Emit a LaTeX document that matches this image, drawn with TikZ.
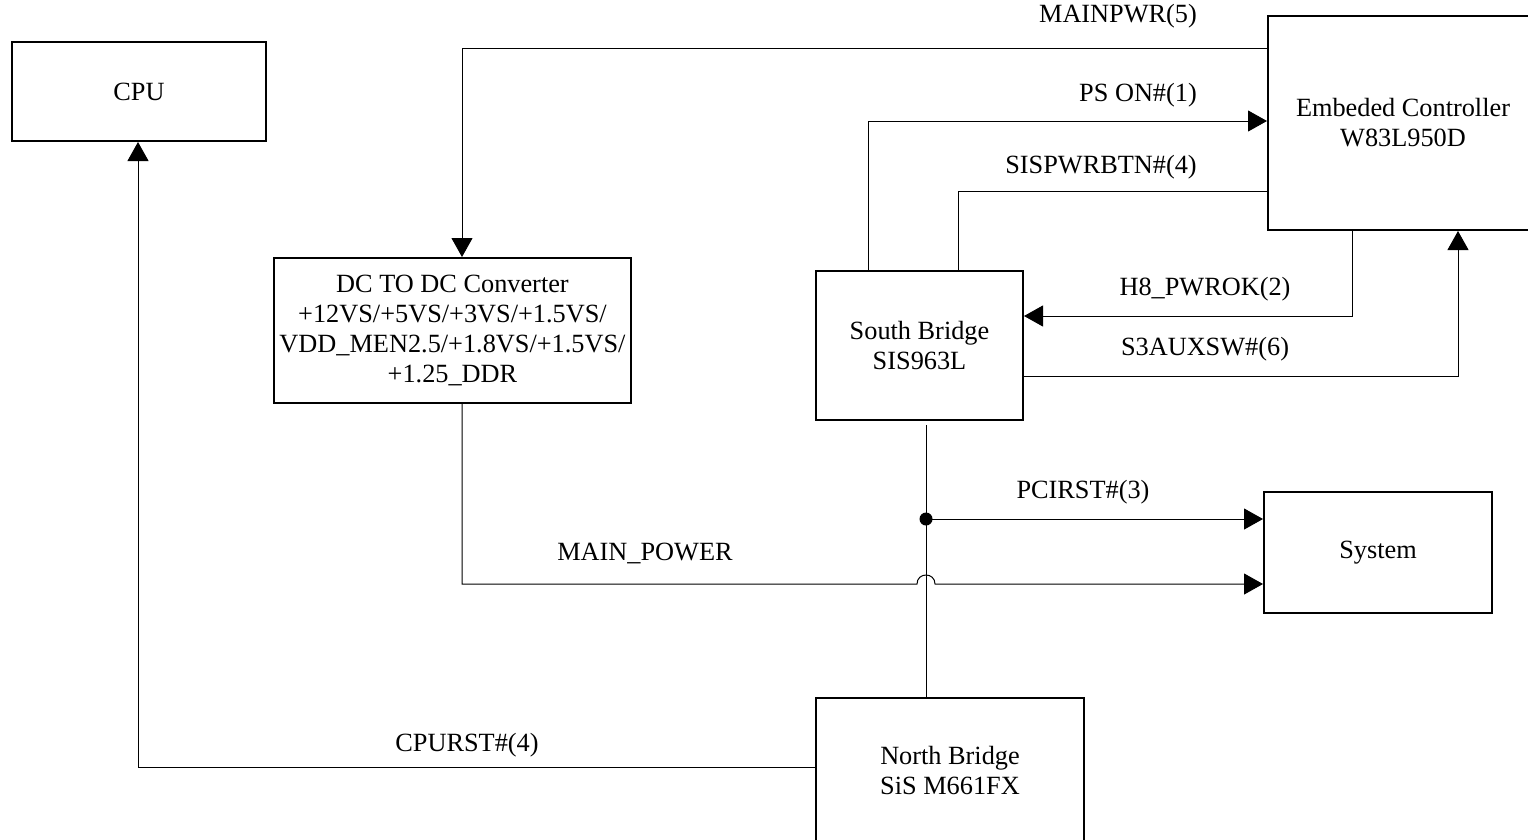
\documentclass[tikz,border=0pt]{standalone}
\usepackage{fontspec}
\setmainfont{Liberation Serif}
\usetikzlibrary{arrows.meta}
\newcommand{\fsz}{\fontsize{26.3}{30}\selectfont}
\begin{document}
\begin{tikzpicture}[x=1pt,y=-1pt,
  box/.style={draw,line width=2pt,inner sep=0pt,align=center,font=\fsz},
  lbl/.style={inner sep=0pt,font=\fsz},
  wire/.style={line width=1pt},
  arr/.style={wire,-{Triangle[length=19pt,width=21pt]}}]
\useasboundingbox (0,0) rectangle (1528,839);

% boxes
\node[box,minimum width=254pt,minimum height=99pt] (cpu) at (139,91.5) {CPU};
\node[box,minimum width=270pt,minimum height=214pt] (ec) at (1403,123) {Embeded Controller\\W83L950D};
\node[box,minimum width=357pt,minimum height=145pt] (dc) at (452.5,330.5) {DC TO DC Converter\\+12VS/+5VS/+3VS/+1.5VS/\\VDD\_MEN2.5/+1.8VS/+1.5VS/\\+1.25\_DDR};
\node[box,minimum width=207pt,minimum height=149pt] (sb) at (919.5,345.5) {South Bridge\\SIS963L};
\node[box,minimum width=228pt,minimum height=121pt] (sys) at (1378,552.5) {System};
\node[box,minimum width=268pt,minimum height=144pt] (nb) at (950,770) {North Bridge\\SiS M661FX};

% connectors
\draw[arr] (ec.west |- 0,48) -- (462,48) -- (dc.north -| 462,0);
\draw[arr] (sb.north -| 868,0) -- (868,121) -- (ec.west |- 0,121);
\draw[wire] (ec.west |- 0,191) -- (958,191) -- (sb.north -| 958,0);
\draw[arr] (ec.south -| 1352,0) -- (1352,316) -- (sb.east |- 0,316);
\draw[arr] (sb.east |- 0,376) -- (1458,376) -- (ec.south -| 1458,0);

\coordinate (sbtail) at (926,425);
\coordinate (jn) at (926,519);
\draw[wire] (sbtail) -- (nb.north -| sbtail);
\fill (jn) circle (6.5pt);
\draw[arr] (jn) -- (sys.west |- jn);

\draw[arr] (dc.south -| 462,0) -- (462,584) -- (917,584)
  .. controls (917,572) and (935,572) .. (935,584) -- (sys.west |- 0,584);

\draw[arr] (nb.west |- 0,767) -- (138,767) -- (cpu.south -| 138,0);

% labels
\node[lbl] (l1) at (1118,16) {MAINPWR(5)};
\node[lbl] (l2) at (1138,95) {PS ON\#(1)};
\node[lbl] (l3) at (1101,167) {SISPWRBTN\#(4)};
\node[lbl] (l4) at (1205,289) {H8\_PWROK(2)};
\node[lbl] (l5) at (1205,349) {S3AUXSW\#(6)};
\node[lbl] (l6) at (1083,492) {PCIRST\#(3)};
\node[lbl] (l7) at (645,553) {MAIN\_POWER};
\node[lbl] (l8) at (467,745) {CPURST\#(4)};
\end{tikzpicture}
\end{document}
